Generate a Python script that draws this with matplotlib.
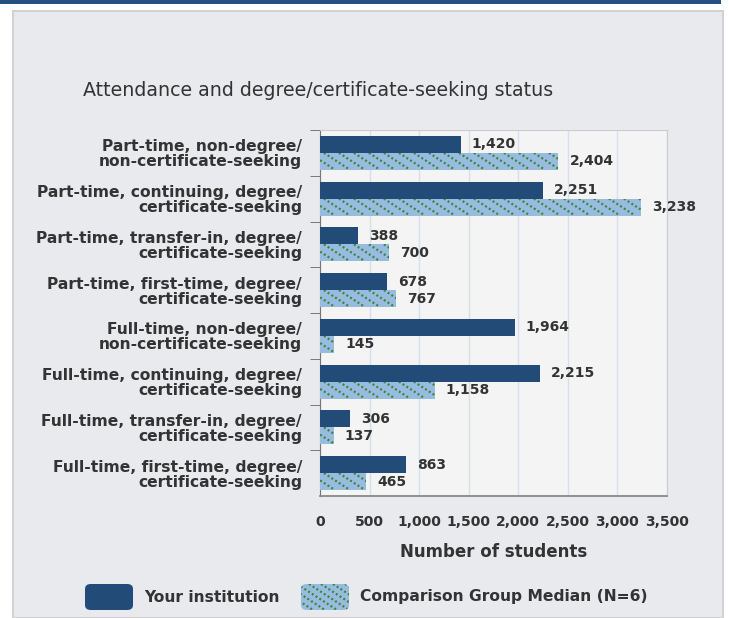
import numpy as np
import matplotlib.pyplot as plt
from matplotlib.patches import Rectangle, FancyBboxPatch
from matplotlib.lines import Line2D

# data, top to bottom as shown in the chart
categories = [
    "Part-time, non-degree/\nnon-certificate-seeking",
    "Part-time, continuing, degree/\ncertificate-seeking",
    "Part-time, transfer-in, degree/\ncertificate-seeking",
    "Part-time, first-time, degree/\ncertificate-seeking",
    "Full-time, non-degree/\nnon-certificate-seeking",
    "Full-time, continuing, degree/\ncertificate-seeking",
    "Full-time, transfer-in, degree/\ncertificate-seeking",
    "Full-time, first-time, degree/\ncertificate-seeking",
]
institution = [1420, 2251, 388, 678, 1964, 2215, 306, 863]
comparison = [2404, 3238, 700, 767, 145, 1158, 137, 465]
xticks = [0, 500, 1000, 1500, 2000, 2500, 3000, 3500]

dark = "#234b78"
light = "#99bbdf"
green = "#348a38"
panel = "#e8eaed"
txt = "#333333"

plt.rcParams["font.family"] = ["DejaVu Sans"]

W, H = 729, 618
fig = plt.figure(figsize=(W / 100, H / 100), dpi=100)
fig.patch.set_facecolor("white")


def dotted_hatch(patch, to_pix, add, spacing=15, slope=0.65):
    # green dotted diagonal lines clipped to a patch, drawn in pixel space
    bb = patch.get_window_extent()
    x0, x1, y0, y1 = bb.x0, bb.x1, bb.y0, bb.y1
    run = (y1 - y0) / slope
    for c in np.arange(x0 - run, x1, spacing):
        px = np.array([c, c + run])
        py = np.array([y1, y0])
        pts = to_pix.inverted().transform(np.column_stack([px, py]))
        ln = Line2D(pts[:, 0], pts[:, 1], color=green, lw=1.6,
                    ls=(0, (0.9, 1.1)), transform=to_pix, zorder=4)
        add(ln)
        ln.set_clip_path(patch)


# background panel and top band
fig.add_artist(Rectangle((13 / W, 0), 710 / W, 1 - 11 / H, transform=fig.transFigure,
                         facecolor=panel, edgecolor="#d2d2d2", lw=1.5, zorder=-5))
fig.add_artist(Rectangle((0, 1 - 4 / H), 721 / W, 4 / H, transform=fig.transFigure,
                         facecolor="#24507f", edgecolor="none", zorder=-5))

fig.text(83 / W, 1 - 90 / H, "Attendance and degree/certificate-seeking status",
         fontsize=13.7, color=txt, va="center", ha="left")

ax = fig.add_axes([320 / W, 1 - 496 / H, 347 / W, 366 / H])
ax.set_facecolor("#f4f4f4")

y = np.arange(len(categories))
h = 0.37
ax.set_xlim(0, 3500)
ax.set_ylim(len(categories) - 0.5, -0.5)

ax.barh(y - h / 2, institution, height=h, color=dark, edgecolor="none", zorder=3)
comp_bars = ax.barh(y + h / 2, comparison, height=h, color=light, edgecolor="none",
                    zorder=3)
for b in comp_bars:
    dotted_hatch(b, ax.transData, ax.add_line)

for i in range(len(categories)):
    ax.annotate(f"{institution[i]:,}", (institution[i], y[i] - h / 2), xytext=(8, 0),
                textcoords="offset points", va="center", ha="left",
                fontsize=10, fontweight="bold", color=txt)
    ax.annotate(f"{comparison[i]:,}", (comparison[i], y[i] + h / 2), xytext=(8, 0),
                textcoords="offset points", va="center", ha="left",
                fontsize=10, fontweight="bold", color=txt)

ax.set_xticks(xticks)
ax.set_xticklabels([f"{v:,}" for v in xticks], fontsize=10, fontweight="bold", color=txt)
ax.set_yticks(y)
ax.set_yticklabels(categories, fontsize=11.2, fontweight="bold", color=txt,
                   linespacing=1.0)
ax.set_yticks(np.arange(len(categories)) - 0.5, minor=True)
ax.tick_params(axis="y", which="major", length=0, pad=13)
ax.tick_params(axis="y", which="minor", length=7, color="#666666")
ax.tick_params(axis="x", length=0, pad=14)
ax.grid(axis="x", color="#d6dfec", lw=1, zorder=1)

for s in ["top", "right"]:
    ax.spines[s].set_color("#cccccc")
ax.spines["left"].set_color("#777777")
ax.spines["bottom"].set_color("#888888")
ax.spines["bottom"].set_linewidth(1.3)

ax.set_xlabel("Number of students", fontsize=12, fontweight="bold", color=txt, labelpad=10)

# legend
fig.add_artist(FancyBboxPatch((85 / W, 1 - 610 / H), 48 / W, 26 / H,
                              boxstyle="round,pad=0,rounding_size=0.008",
                              transform=fig.transFigure, facecolor=dark,
                              edgecolor="none"))
fig.text(144 / W, 1 - 597 / H, "Your institution", fontsize=11.2, fontweight="bold",
         color=txt, va="center")
leg_box = FancyBboxPatch((301 / W, 1 - 610 / H), 48 / W, 26 / H,
                         boxstyle="round,pad=0,rounding_size=0.008",
                         transform=fig.transFigure, facecolor=light,
                         edgecolor="none")
fig.add_artist(leg_box)
dotted_hatch(leg_box, fig.transFigure, fig.add_artist, spacing=12)
fig.text(360 / W, 1 - 597 / H, "Comparison Group Median (N=6)", fontsize=11.2,
         fontweight="bold", color=txt, va="center")

fig.savefig("out.png", dpi=100)
